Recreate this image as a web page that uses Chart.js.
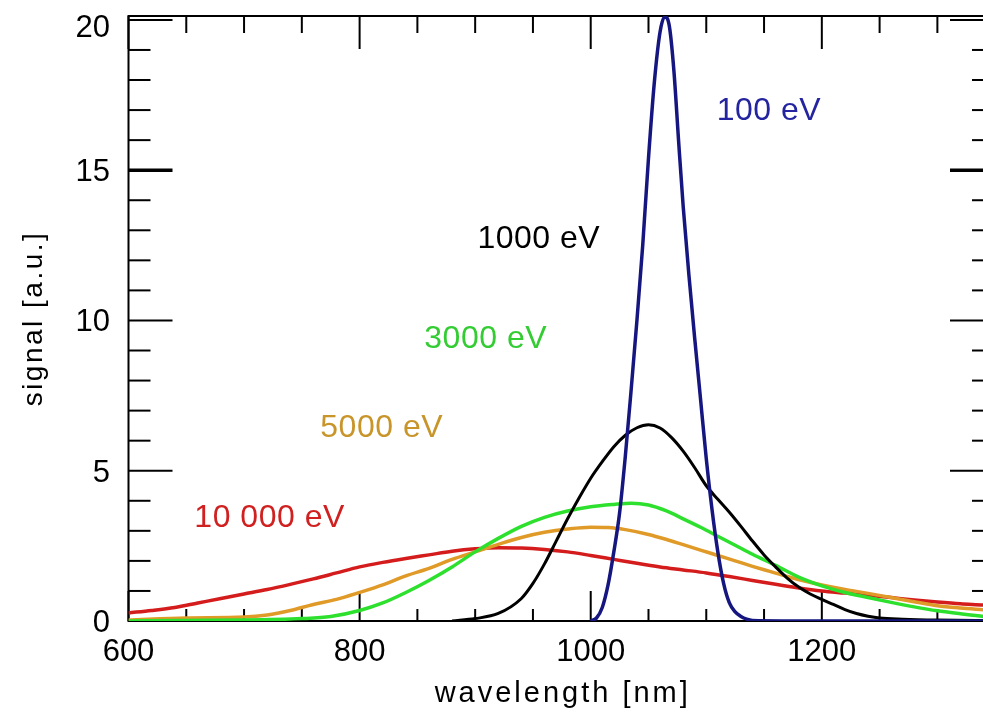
<!DOCTYPE html>
<html>
<head>
<meta charset="utf-8">
<script src="https://cdn.jsdelivr.net/npm/chart.js@4/dist/chart.umd.min.js"></script>
<style>
  html, body { margin: 0; padding: 0; overflow: hidden; background: #fff; }
  #wrap { width: 1000px; height: 712px; }
</style>
</head>
<body>
<div id="wrap"><canvas id="c" width="1000" height="712"></canvas></div>
<script>
// Emission spectra for several electron energies (signal vs wavelength)
const energyLabels = ['100 eV', '1000 eV', '3000 eV', '5000 eV', '10 000 eV'];

const wl100 = [1000, 1005, 1010, 1015, 1020, 1025, 1030, 1035, 1040, 1045, 1050, 1055, 1060, 1064, 1068, 1072, 1076, 1080, 1085, 1090, 1095, 1100, 1105, 1110, 1115, 1120, 1125, 1130, 1135, 1140, 1200, 1350];
const sig100 = [0, 0.1, 0.45, 1.2, 2.3, 3.6, 5.5, 7.7, 10.0, 12.5, 15.4, 17.9, 19.6, 20.1, 19.8, 18.3, 16.0, 13.8, 11.5, 9.4, 7.4, 5.4, 3.7, 2.3, 1.25, 0.6, 0.3, 0.15, 0.06, 0.02, 0, 0];

const wl1000 = [880, 900, 920, 940, 950, 960, 970, 980, 990, 1000, 1010, 1020, 1030, 1040, 1050, 1060, 1070, 1080, 1090, 1100, 1110, 1120, 1130, 1140, 1150, 1160, 1170, 1180, 1190, 1200, 1210, 1220, 1230, 1240, 1250, 1270, 1300, 1350];
const sig1000 = [0, 0.08, 0.25, 0.75, 1.25, 1.9, 2.65, 3.4, 4.1, 4.75, 5.3, 5.8, 6.18, 6.43, 6.53, 6.42, 6.1, 5.65, 5.1, 4.5, 4.05, 3.62, 3.15, 2.66, 2.2, 1.8, 1.43, 1.13, 0.9, 0.72, 0.55, 0.38, 0.25, 0.16, 0.1, 0.06, 0.03, 0.01];

const wl3000 = [600, 650, 700, 750, 775, 800, 820, 840, 860, 880, 900, 920, 940, 960, 980, 1000, 1020, 1035, 1050, 1065, 1080, 1095, 1110, 1125, 1140, 1160, 1180, 1200, 1220, 1240, 1260, 1280, 1300, 1320, 1340, 1350];
const sig3000 = [0, 0.02, 0.03, 0.08, 0.15, 0.35, 0.6, 0.95, 1.35, 1.8, 2.3, 2.75, 3.15, 3.45, 3.66, 3.8, 3.88, 3.92, 3.86, 3.67, 3.4, 3.12, 2.82, 2.52, 2.22, 1.85, 1.46, 1.17, 0.95, 0.78, 0.62, 0.47, 0.34, 0.24, 0.15, 0.12];

const wl5000 = [600, 650, 700, 720, 740, 760, 780, 800, 820, 840, 860, 880, 900, 920, 940, 960, 980, 1000, 1015, 1030, 1050, 1065, 1080, 1095, 1110, 1125, 1140, 1155, 1170, 1185, 1200, 1220, 1240, 1260, 1280, 1300, 1320, 1340, 1350];
const sig5000 = [0.03, 0.1, 0.13, 0.2, 0.35, 0.55, 0.72, 0.95, 1.2, 1.5, 1.75, 2.05, 2.3, 2.55, 2.78, 2.95, 3.06, 3.12, 3.11, 3.04, 2.88, 2.72, 2.54, 2.36, 2.18, 2.0, 1.82, 1.65, 1.48, 1.33, 1.2, 1.05, 0.92, 0.78, 0.64, 0.51, 0.43, 0.37, 0.34];

const wl10000 = [600, 620, 640, 660, 680, 700, 720, 740, 760, 780, 800, 820, 840, 860, 880, 900, 920, 940, 960, 980, 1000, 1020, 1040, 1060, 1080, 1100, 1120, 1140, 1160, 1180, 1200, 1220, 1240, 1260, 1280, 1300, 1320, 1340, 1350];
const sig10000 = [0.27, 0.35, 0.45, 0.6, 0.75, 0.9, 1.05, 1.22, 1.4, 1.6, 1.8, 1.95, 2.08, 2.2, 2.32, 2.4, 2.44, 2.43, 2.38, 2.3, 2.18, 2.05, 1.92, 1.8, 1.7, 1.6, 1.48, 1.35, 1.22, 1.1, 1.0, 0.93, 0.86, 0.78, 0.7, 0.63, 0.57, 0.53, 0.5];

// Tick labels
const xTickLabels = [600, 800, 1000, 1200];
const yTickLabels = [0, 5, 10, 15, 20];

// Where each energy label sits, in data units (wavelength, signal)
const labelWl = [1109, 902, 856, 766, 657];
const labelSig = [16.67, 12.41, 9.08, 6.12, 3.13];

const lineColors = ['#161680', '#000000', '#2ee02e', '#e09a28', '#d41c1c'];
const textColors = ['#2424a0', '#000000', '#33cc33', '#c8952a', '#d02020'];
const lineWidths = [3.5, 3, 3.5, 3.5, 3.5];

function pts(xs, ys) { return xs.map((v, i) => ({ x: v, y: ys[i] })); }
const seriesX = [wl100, wl1000, wl3000, wl5000, wl10000];
const seriesY = [sig100, sig1000, sig3000, sig5000, sig10000];

const datasets = energyLabels.map((lab, i) => ({
  label: lab,
  data: pts(seriesX[i], seriesY[i]),
  borderColor: lineColors[i],
  borderWidth: lineWidths[i],
  pointRadius: 0,
  fill: false,
  cubicInterpolationMode: 'monotone'
}));

const FONT = '"Liberation Sans", Arial, Helvetica, sans-serif';

function seg(ctx, x1, y1, x2, y2) {
  ctx.beginPath(); ctx.moveTo(x1, y1); ctx.lineTo(x2, y2); ctx.stroke();
}

// Boxed axes with inward ticks on all four sides
const boxAxes = {
  id: 'boxAxes',
  beforeDatasetsDraw(chart) {
    const { ctx, chartArea: a, scales: { x, y } } = chart;
    ctx.save();
    ctx.strokeStyle = '#000';
    ctx.lineWidth = 2;
    ctx.strokeRect(a.left, a.top, a.right - a.left, a.bottom - a.top);
    for (let v = Math.ceil(y.min); v <= y.max; v++) {
      const py = y.getPixelForValue(v);
      const major = v % 5 === 0;
      const len = major ? 44 : 22;
      ctx.lineWidth = v === 15 ? 3.5 : 2;
      seg(ctx, a.left, py, a.left + len, py);
      seg(ctx, a.right, py, a.right - len, py);
    }
    ctx.lineWidth = 2;
    for (let w = 600; w <= x.max; w += 50) {
      const px = x.getPixelForValue(w);
      const major = w % 200 === 0;
      seg(ctx, px, a.bottom, px, a.bottom - (major ? 30 : 12));
      seg(ctx, px, a.top, px, a.top + (major ? 33 : 17));
    }
    ctx.restore();
  },
  afterDatasetsDraw(chart) {
    const { ctx, chartArea: a, scales: { x, y } } = chart;
    ctx.save();
    ctx.fillStyle = '#000';
    ctx.font = '31px ' + FONT;
    ctx.textBaseline = 'alphabetic';
    ctx.textAlign = 'right';
    yTickLabels.forEach(v => {
      const py = y.getPixelForValue(v);
      ctx.fillText(String(v), 110, Math.max(py + 11, a.top + 21));
    });
    ctx.textAlign = 'center';
    xTickLabels.forEach(v => {
      ctx.fillText(String(v), x.getPixelForValue(v), a.bottom + 40);
    });
    // axis titles
    ctx.font = '29px ' + FONT;
    ctx.letterSpacing = '3px';
    ctx.fillText('wavelength [nm]', (a.left + a.right) / 2 + 1.5, a.bottom + 81);
    ctx.save();
    ctx.translate(42, (a.top + a.bottom) / 2);
    ctx.rotate(-Math.PI / 2);
    ctx.font = '28px ' + FONT;
    ctx.letterSpacing = '2.5px';
    ctx.fillText('signal [a.u.]', 0, 0);
    ctx.restore();
    // energy labels
    ctx.letterSpacing = '0.5px';
    ctx.font = '32px ' + FONT;
    ctx.textAlign = 'left';
    energyLabels.forEach((lab, i) => {
      ctx.fillStyle = textColors[i];
      ctx.fillText(lab, x.getPixelForValue(labelWl[i]), y.getPixelForValue(labelSig[i]));
    });
    ctx.restore();
  }
};

new Chart(document.getElementById('c'), {
  type: 'line',
  data: { datasets },
  options: {
    responsive: false,
    animation: false,
    devicePixelRatio: 1,
    layout: { padding: { left: 128.5, top: 16, right: 6, bottom: 91 } },
    scales: {
      x: { type: 'linear', min: 600, max: 1349, display: false },
      y: { type: 'linear', min: 0, max: 20.13, display: false }
    },
    plugins: { legend: { display: false }, tooltip: { enabled: false } }
  },
  plugins: [boxAxes]
});
</script>
</body>
</html>
